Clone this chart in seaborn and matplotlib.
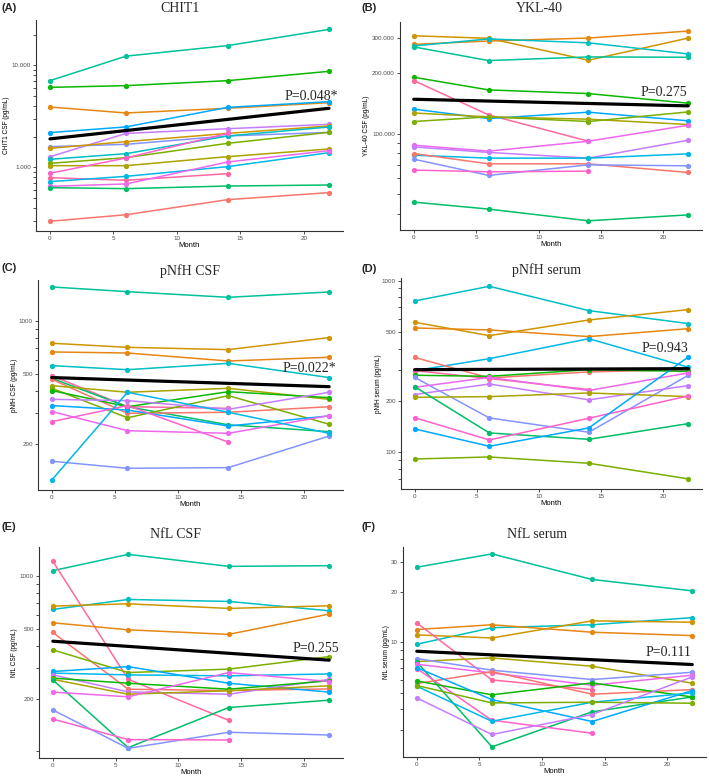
import math
import numpy as np
import pandas as pd
import matplotlib
matplotlib.use("Agg")
import matplotlib.pyplot as plt
from matplotlib.ticker import FixedLocator, FixedFormatter, NullFormatter
import seaborn as sns

# ---------------- data ----------------
MONTHS = [0, 6, 14, 22]
XTICKS = [0, 5, 10, 15, 20]

# subject index -> ggplot hue position (16 subjects)
CHIT1_SUBJECTS = [7, 5, 1, 10, 12, 11, 2, 8, 4, 3, 14, 15, 9, 13, 6, 0]
CHIT1_VALUES = [
    [7070, 12300, 15600, 22500],
    [6080, 6320, 7070, 8730],
    [3900, 3410, 3790, 4300],
    [2190, 2490, 3870, 4400],
    [1270, 2150, 2390, 2640],
    [1595, 1680, 2030, 2200],
    [1536, 1785, 2150, 2543],
    [1198, 1361, 2028, 2486],
    [1094, 1244, 1719, 2204],
    [1038, 1038, 1272, 1513],
    [874, 1235, 2150, None],
    [792, 746, 867, None],
    [724, 816, 1015, 1392],
    [651, 687, 1128, 1456],
    [632, 618, 656, 671],
    [296, 343, 482, 565],
]
CHIT1_TREND = [1900, 3790]

YKL_SUBJECTS = [2, 1, 8, 7, 5, 15, 10, 3, 4, 13, 12, 9, 0, 11, 14, 6]
YKL_VALUES = [
    [308000, 299000, 232600, 300000],
    [279000, 290000, 300000, 325000],
    [274000, 297000, 284000, 250000],
    [271000, 231700, 241600, 240700],
    [191400, 165500, 158700, 142100],
    [184200, 124300, 91900, None],
    [132700, 119200, 128200, 116100],
    [127000, 121500, 118300, 111300],
    [115200, 121500, 115200, 128600],
    [87800, 82000, 91900, 110400],
    [86100, 80800, 75700, 93000],
    [78300, 75700, 75700, 79500],
    [79800, 70900, 70900, 64200],
    [74800, 62100, 70100, 69300],
    [66000, 64700, 65200, None],
    [45700, 42200, 36900, 39500],
]
YKL_TREND = [148700, 137800]

PNFH_CSF_SUBJECTS = [7, 2, 1, 8, 15, 6, 0, 3, 4, 5, 12, 10, 14, 13, 11, 9]
PNFH_CSF_VALUES = [
    [1571, 1477, 1371, 1471],
    [749, 710, 689, 807],
    [668, 659, 593, 623],
    [558, 529, 575, 477],
    [489, 325, 318, None],
    [472, 325, 256, 234],
    [466, 298, 302, 325],
    [429, 393, 414, 358],
    [414, 281, 376, 258],
    [402, 325, 396, 366],
    [358, 352, 314, 393],
    [330, 311, 252, 288],
    [267, 330, 204, None],
    [305, 237, 229, 289],
    [158.5, 144.5, 145.8, 221],
    [124, 393, 302, 229],
]
PNFH_CSF_TREND = [477, 423]

PNFH_SER_SUBJECTS = [8, 2, 1, 9, 0, 15, 5, 11, 13, 12, 3, 6, 14, 10, 4]
PNFH_SER_VALUES = [
    [761, 927, 669, 562],
    [572, 478, 590, 678],
    [530, 516, 472, 525],
    [299, 351, 459, 313],
    [357, 271, 294, 303],
    [299, 269, 232, None],
    [281, 277, 303, 296],
    [273, 158.5, 130.8, 281],
    [239, 273, 229, 290],
    [217, 250, 202, 244.6],
    [209, 211, 221.6, 211],
    [241, 129.6, 119, 146.9],
    [159, 118, 157.8, 213],
    [136.8, 108.4, 138.6, 359],
    [91.4, 93.9, 86.3, 70],
]
PNFH_SER_TREND = [303, 307]

NFL_CSF_SUBJECTS = [7, 15, 8, 2, 1, 0, 4, 10, 9, 12, 5, 3, 6, 13, 11, 14]
NFL_CSF_VALUES = [
    [1078, 1336, 1141, 1151],
    [1219, 258, 150.5, None],
    [647, 738, 719, 636],
    [676, 697, 656, 679],
    [543, 495, 466, 609],
    [478, 226.5, 222.5, 227.5],
    [380, 282, 295, 348],
    [286, 305, 245, 218],
    [280, 273.5, 270, 277],
    [273.5, 218.6, 212, 258],
    [262, 245, 226.5, 253],
    [258, 212, 222, 237],
    [256, 105, 178, 196],
    [218, 205, 282, 250.6],
    [172.4, 104, 128.5, 124],
    [153, 116.7, 116.1, None],
]
NFL_CSF_TREND = [426, 332]

NFL_SER_SUBJECTS = [7, 8, 2, 1, 15, 3, 11, 6, 13, 14, 0, 5, 10, 9, 4, 12]
NFL_SER_VALUES = [
    [27.9, 33.5, 23.6, 20.2],
    [9.73, 12.2, 12.7, 14.0],
    [11.06, 10.6, 13.4, 13.15],
    [11.9, 12.7, 11.47, 10.95],
    [13.03, 5.97, 5.23, None],
    [7.68, 8.07, 7.2, 5.71],
    [8.0, 6.82, 6.0, 6.63],
    [7.64, 2.39, 3.86, 4.73],
    [7.4, 6.57, 5.55, 6.37],
    [6.98, 3.44, 2.88, None],
    [5.68, 6.69, 4.91, 5.23],
    [5.89, 4.87, 5.73, 4.73],
    [7.07, 4.56, 3.38, 5.16],
    [5.48, 3.39, 4.40, 5.0],
    [5.53, 4.36, 4.40, 4.34],
    [4.67, 2.83, 3.72, 6.22],
]
NFL_SER_TREND = [8.84, 7.37]

TITLES = ["CHIT1", "YKL-40", "pNfH CSF", "pNfH serum", "NfL CSF", "NfL serum"]
LETTERS = ["(A)", "(B)", "(C)", "(D)", "(E)", "(F)"]
YLABELS = ["CHIT1 CSF (pg/mL)", "YKL-40 CSF (pg/mL)", "pNfH CSF (pg/mL)",
           "pNfH serum (pg/mL)", "NfL CSF (pg/mL)", "NfL serum (pg/mL)"]
PVALUES = ["P=0.048*", "P=0.275", "P=0.022*", "P=0.943", "P=0.255", "P=0.111"]
YMAJOR = [[1000, 10000], [100000, 200000, 300000], [200, 500, 1000],
          [100, 200, 500, 1000], [200, 500, 1000], [10, 20, 30]]
YMAJOR_LABELS = [["1.000", "10.000"], ["100.000", "200.000", "300.000"],
                 ["200", "500", "1000"], ["100", "200", "500", "1000"],
                 ["200", "500", "1000"], ["10", "20", "30"]]

# ---------------- layout / style ----------------
W, H = 709, 778
AX_PX = [(36, 343, 20, 231), (400, 702, 22, 230),
         (38, 343, 280, 490), (401, 702, 278, 489),
         (39, 343, 547, 758), (403, 706, 547, 757)]
YLIMS = [(237.6, 27800), (33200, 360600), (108.6, 1722),
         (61.1, 1036), (91.6, 1472), (2.08, 36.8)]
TITLE_POS = [(180, 8), (539, 8), (190, 271), (547, 270), (176, 534), (537, 535)]
LETTER_POS = [(2, 8), (361, 8), (2, 268), (361, 269), (2, 527), (361, 527)]
P_POS = [(338, 96), (687, 93), (336, 368), (688, 348), (339, 648), (691, 653)]
YLAB_X = [10, 370, 18, 382, 18, 390]


def hcl_hex(h, c=100.0, l=65.0):
    hr = math.radians(h)
    U, V = c * math.cos(hr), c * math.sin(hr)
    Xn, Yn, Zn = 95.047, 100.0, 108.883
    den = Xn + 15 * Yn + 3 * Zn
    un, vn = 4 * Xn / den, 9 * Yn / den
    Y = Yn * ((l + 16) / 116) ** 3
    u = U / (13 * l) + un
    v = V / (13 * l) + vn
    X = Y * 9 * u / (4 * v)
    Z = Y * (12 - 3 * u - 20 * v) / (4 * v)
    X, Y, Z = X / 100, Y / 100, Z / 100
    rgb = [3.2404542 * X - 1.5371385 * Y - 0.4985314 * Z,
           -0.9692660 * X + 1.8760108 * Y + 0.0415560 * Z,
           0.0556434 * X - 0.2040259 * Y + 1.0572252 * Z]
    out = []
    for cc in rgb:
        cc = 12.92 * cc if cc <= 0.0031308 else 1.055 * cc ** (1 / 2.4) - 0.055
        out.append(min(max(cc, 0), 1))
    return tuple(out)


N_SUBJ = 16
PALETTE = {f"S{i:02d}": hcl_hex(15 + 360 / N_SUBJ * i) for i in range(N_SUBJ)}

sns.set_style("ticks")
plt.rcParams["font.family"] = ["Liberation Sans", "DejaVu Sans"]

PANELS = [
    (CHIT1_SUBJECTS, CHIT1_VALUES, CHIT1_TREND),
    (YKL_SUBJECTS, YKL_VALUES, YKL_TREND),
    (PNFH_CSF_SUBJECTS, PNFH_CSF_VALUES, PNFH_CSF_TREND),
    (PNFH_SER_SUBJECTS, PNFH_SER_VALUES, PNFH_SER_TREND),
    (NFL_CSF_SUBJECTS, NFL_CSF_VALUES, NFL_CSF_TREND),
    (NFL_SER_SUBJECTS, NFL_SER_VALUES, NFL_SER_TREND),
]

fig = plt.figure(figsize=(W / 100, H / 100), dpi=100)
fig.patch.set_facecolor("white")

for k, (subjects, values, trend) in enumerate(PANELS):
    l, r, t, b = AX_PX[k]
    ax = fig.add_axes([l / W, 1 - b / H, (r - l) / W, (b - t) / H])
    ax.set_yscale("log")
    rows = []
    for s, vals in zip(subjects, values):
        for m, v in zip(MONTHS, vals):
            if v is not None:
                rows.append({"Month": m, "Value": v, "Subject": f"S{s:02d}"})
    df = pd.DataFrame(rows)
    sns.lineplot(data=df, x="Month", y="Value", hue="Subject", palette=PALETTE,
                 marker="o", markersize=3.8, markeredgewidth=0, linewidth=1.1,
                 estimator=None, sort=False, legend=False, ax=ax)
    tr = pd.DataFrame({"Month": [MONTHS[0], MONTHS[-1]], "Value": trend})
    sns.lineplot(data=tr, x="Month", y="Value", color="black", linewidth=2.3,
                 estimator=None, ax=ax)

    ax.set_xlim(-1.1, 23.1)
    lo, hi = YLIMS[k]
    ax.set_ylim(lo, hi)
    ax.set_xticks(XTICKS)
    ax.set_xticklabels([str(x) for x in XTICKS])
    majors = YMAJOR[k]
    ax.yaxis.set_major_locator(FixedLocator(majors))
    ax.yaxis.set_major_formatter(FixedFormatter(YMAJOR_LABELS[k]))
    minors = []
    for e in range(-1, 7):
        for m in range(1, 10):
            val = m * 10 ** e
            if lo <= val <= hi and val not in majors:
                minors.append(val)
    ax.yaxis.set_minor_locator(FixedLocator(minors))
    ax.yaxis.set_minor_formatter(NullFormatter())

    for side in ["top", "right"]:
        ax.spines[side].set_visible(False)
    for side in ["left", "bottom"]:
        ax.spines[side].set_color("#333333")
        ax.spines[side].set_linewidth(0.8)
    ax.tick_params(axis="both", which="major", labelsize=4.5, length=2.2,
                   width=0.6, color="#333333", labelcolor="#4D4D4D", pad=1.5)
    ax.tick_params(axis="y", which="minor", length=2.0, width=0.6, color="#333333")
    ax.grid(False)
    ax.set_facecolor("white")

    ax.set_xlabel("Month", fontsize=5.5, color="black")
    ax.xaxis.set_label_coords(0.5, -0.052)
    ax.set_ylabel(YLABELS[k], fontsize=4.7, color="black")
    ax.yaxis.set_label_coords((YLAB_X[k] - l) / (r - l), 0.5)

    tx, ty = TITLE_POS[k]
    fig.text(tx / W, 1 - ty / H, TITLES[k], ha="center", va="center",
             fontsize=10, family=["Liberation Serif", "DejaVu Serif"])
    lx, ly = LETTER_POS[k]
    fig.text(lx / W, 1 - ly / H, LETTERS[k], ha="left", va="center",
             fontsize=8, fontweight="bold")
    px, py = P_POS[k]
    fig.text(px / W, 1 - py / H, PVALUES[k], ha="right", va="center",
             fontsize=10, family=["Liberation Serif", "DejaVu Serif"])

fig.savefig("out.png", dpi=100, facecolor="white")
